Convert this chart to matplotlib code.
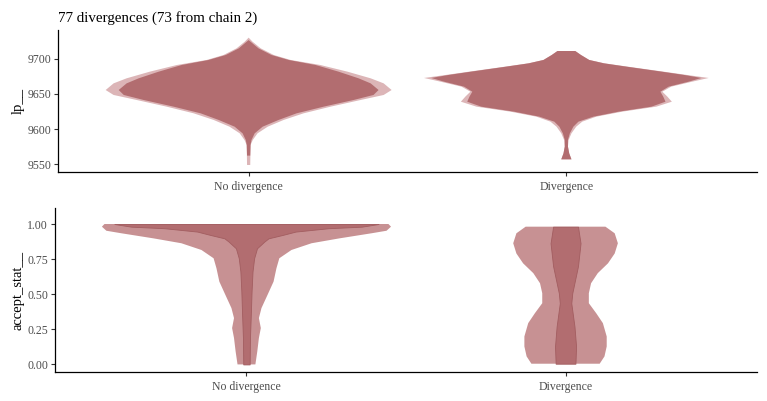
import numpy as np
import matplotlib
matplotlib.use("Agg")
import matplotlib.pyplot as plt

plt.rcParams['font.family'] = ['Liberation Serif', 'DejaVu Serif']

title = "77 divergences (73 from chain 2)"
groups = ["No divergence", "Divergence"]

# violin outlines: (value, half-width in category units)
# top panel: lp__
lp_nodiv_all_y = [9730.5, 9724.8, 9715.2, 9705.7, 9698.6, 9691.4, 9681.9, 9672.4, 9665.2, 9655.7,
                  9648.6, 9641.4, 9631.9, 9622.4, 9612.9, 9603.3, 9593.8, 9584.3, 9577.1, 9548.6]
lp_nodiv_all_w = [0.0, 0.012, 0.038, 0.079, 0.132, 0.226, 0.311, 0.384, 0.425, 0.450,
                  0.425, 0.352, 0.258, 0.173, 0.110, 0.060, 0.028, 0.013, 0.006, 0.005]
lp_nodiv_ch_y = [9727.0, 9715.2, 9705.7, 9698.6, 9691.4, 9681.9, 9672.4, 9665.2, 9655.7, 9648.6,
                 9641.4, 9631.9, 9622.4, 9612.9, 9603.3, 9593.8, 9584.3, 9577.1, 9562.0]
lp_nodiv_ch_w = [0.0, 0.031, 0.072, 0.126, 0.211, 0.283, 0.346, 0.384, 0.409, 0.393,
                 0.330, 0.236, 0.151, 0.094, 0.044, 0.019, 0.009, 0.006, 0.005]

lp_div_all_y = [9711.4, 9705.7, 9698.6, 9693.8, 9689.0, 9681.9, 9677.1, 9672.9, 9667.6, 9660.5,
                9653.3, 9646.2, 9639.0, 9631.9, 9624.8, 9617.6, 9610.5, 9603.3, 9593.8, 9584.3,
                9574.8, 9565.2, 9556.7]
lp_div_all_w = [0.028, 0.046, 0.072, 0.120, 0.194, 0.306, 0.381, 0.448, 0.396, 0.330,
                0.302, 0.318, 0.332, 0.283, 0.176, 0.094, 0.050, 0.031, 0.016, 0.007,
                0.005, 0.009, 0.016]
lp_div_ch_y = lp_div_all_y
lp_div_ch_w = [0.028, 0.046, 0.072, 0.118, 0.190, 0.300, 0.372, 0.425, 0.385, 0.322,
               0.296, 0.305, 0.312, 0.268, 0.165, 0.085, 0.038, 0.022, 0.011, 0.005,
               0.005, 0.009, 0.016]

# bottom panel: accept_stat__
acc_nodiv_all_y = [1.0, 0.981, 0.952, 0.934, 0.898, 0.863, 0.815, 0.756, 0.685, 0.590,
                   0.495, 0.401, 0.330, 0.259, 0.188, 0.093, 0.0]
acc_nodiv_all_w = [0.445, 0.453, 0.439, 0.392, 0.292, 0.204, 0.141, 0.103, 0.094, 0.085,
                   0.066, 0.047, 0.039, 0.045, 0.039, 0.034, 0.028]
acc_nodiv_ch_y = [1.0, 0.981, 0.970, 0.946, 0.922, 0.898, 0.875, 0.827, 0.756, 0.662,
                  0.519, 0.377, 0.188, 0.0]
acc_nodiv_ch_w = [0.414, 0.361, 0.257, 0.154, 0.113, 0.069, 0.056, 0.033, 0.024, 0.019,
                  0.016, 0.014, 0.011, 0.010]

acc_div_all_y = [0.981, 0.934, 0.863, 0.790, 0.720, 0.650, 0.578, 0.507, 0.436, 0.365,
                 0.294, 0.199, 0.128, 0.057, 0.005]
acc_div_all_w = [0.125, 0.154, 0.164, 0.154, 0.133, 0.101, 0.080, 0.073, 0.073, 0.096,
                 0.117, 0.129, 0.129, 0.122, 0.107]
acc_div_ch_y = [0.981, 0.863, 0.700, 0.507, 0.436, 0.270, 0.128, 0.005]
acc_div_ch_w = [0.039, 0.047, 0.039, 0.021, 0.018, 0.028, 0.033, 0.031]

light_top = "#dcb5b7"
light_bot = "#c79193"
dark = "#b26d70"
edge = "#a25d60"


def violin(ax, pos, y, w, color, ec="none", lw=0.0):
    y = np.asarray(y)
    w = np.asarray(w)
    ax.fill_betweenx(y, pos - w, pos + w, facecolor=color, edgecolor=ec, linewidth=lw)


def style(ax, ylabel, ticks, fmt):
    for s in ["top", "right"]:
        ax.spines[s].set_visible(False)
    for s in ["left", "bottom"]:
        ax.spines[s].set_linewidth(0.9)
    ax.set_xlim(0.4, 2.6)
    ax.set_xticks([1, 2])
    ax.set_xticklabels(groups)
    ax.set_yticks(ticks)
    ax.set_yticklabels([fmt.format(t) for t in ticks])
    ax.tick_params(labelsize=8.5, labelcolor="#4d4d4d", length=3, width=0.8, color="#333333", pad=2)
    ax.tick_params(axis="x", pad=3.5)
    ax.set_ylabel(ylabel, fontsize=10.5, labelpad=2)


W, H = 767, 401
fig = plt.figure(figsize=(W / 100, H / 100), dpi=100)

ax1 = fig.add_axes([58 / W, 1 - 172 / H, (757 - 58) / W, (172 - 30) / H])
violin(ax1, 1, lp_nodiv_all_y, lp_nodiv_all_w, light_top)
violin(ax1, 1, lp_nodiv_ch_y, lp_nodiv_ch_w, dark)
violin(ax1, 2, lp_div_all_y, lp_div_all_w, light_top)
violin(ax1, 2, lp_div_ch_y, lp_div_ch_w, dark)
ax1.set_ylim(9538.6, 9741.4)
style(ax1, "lp__", [9550, 9600, 9650, 9700], "{:d}")
ax1.set_title(title, loc="left", fontsize=10.8, pad=6, x=0.0)

ax2 = fig.add_axes([55 / W, 1 - 372 / H, (757 - 55) / W, (372 - 208) / H])
violin(ax2, 1, acc_nodiv_all_y, acc_nodiv_all_w, light_bot)
violin(ax2, 1, acc_nodiv_ch_y, acc_nodiv_ch_w, dark, edge, 0.6)
violin(ax2, 2, acc_div_all_y, acc_div_all_w, light_bot)
violin(ax2, 2, acc_div_ch_y, acc_div_ch_w, dark, edge, 0.6)
ax2.set_ylim(-0.054, 1.114)
style(ax2, "accept_stat__", [0.0, 0.25, 0.5, 0.75, 1.0], "{:.2f}")

fig.savefig("out.png", dpi=100)
